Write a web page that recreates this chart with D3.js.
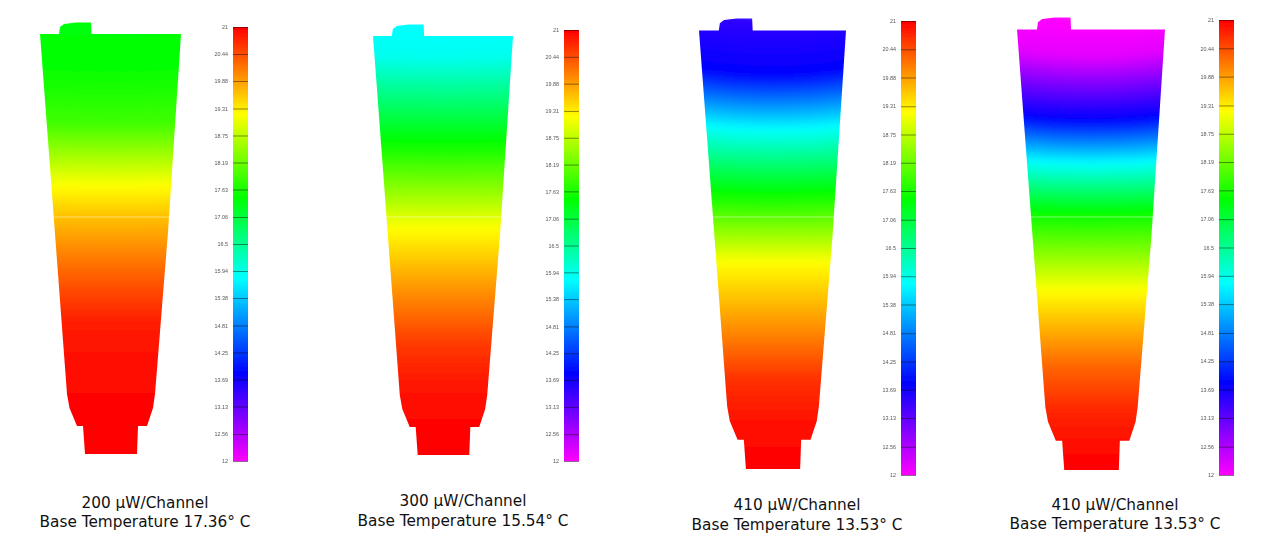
<!DOCTYPE html>
<html>
<head>
<meta charset="utf-8">
<script src="https://cdn.jsdelivr.net/npm/d3@7"></script>
<style>
html,body{margin:0;padding:0;background:#fff;overflow:hidden}
svg{display:block}
.axis path{display:none}
.axis line{stroke:#000;stroke-opacity:.55;stroke-width:.8}
.axis text{font:5.4px "Liberation Sans",sans-serif;fill:#555}
.cap{font:15.3px "DejaVu Sans",sans-serif;fill:#111;text-anchor:middle}
</style>
</head>
<body>
<svg id="c" width="1282" height="546"></svg>
<script>
// Colour scale (temperature in deg C -> hue)
const colourTemps = [12, 13.83, 15.8, 17.47, 19.2, 21];
const colourNames = ["#ff00ff", "#0000ff", "#00ffff", "#00ff00", "#ffff00", "#ff0000"];
const tickValues = [21,20.44,19.88,19.31,18.75,18.19,17.63,17.06,16.5,15.94,15.38,14.81,14.25,13.69,13.13,12.56,12];
const tickLabels = ["21","20.44","19.88","19.31","18.75","18.19","17.63","17.06","16.5","15.94","15.38","14.81","14.25","13.69","13.13","12.56","12"];

// Device outline in model units (0-141 wide, 0-432 tall, tab on top)
const outlineX = [0,1,19,20,24,36,51,51.5,141,128,115,113,107,98,97,45,43,37,29.5,27,0];
const outlineY = [12,12,12,5,2,0.5,0.5,12,12,210,372,386,404,404,432,432,404,404,386,372,12];

// Panels
const panelCaption1 = ["200 µW/Channel","300 µW/Channel","410 µW/Channel","410 µW/Channel"];
const panelCaption2 = ["Base Temperature 17.36° C","Base Temperature 15.54° C","Base Temperature 13.53° C","Base Temperature 13.53° C"];
// Temperature along the device height (model y units -> deg C)
const profileDepths = [
  [0,40,100,163,195,250,300,350,410,432],
  [0,31,116,204,260,320,360,400,432],
  [0,50,107,172,244,310,360,410,453],
  [0,33,98,143,193,273,350,395,440,453]
];
const profileTemps = [
  [17.4,17.47,17.9,19.2,19.65,20.3,20.8,20.93,21,21],
  [15.8,15.9,17.47,19.2,19.9,20.6,20.85,20.97,21],
  [13.5,13.83,15.8,17.47,19.2,20,20.65,20.92,21],
  [12,12.2,13.83,15.8,17.47,19.2,20.3,20.75,20.97,21]
];
const bowlDepth = [2,2,7,7];

// Pixel layout
const shapeLeft = [40,373,699,1017], shapeRight = [181,513,846,1165];
const shapeTop = [22,24,18,17], shapeBottom = [454,455,469,470];
const seamY = [217,217,217,217];
const barLeft = [233,564,901,1219], barTop = [27,30,21,20], barBottom = [461,461,475,475];
const barWidth = 15;
const captionX = [145,463,797,1115], captionY1 = [508,506,510,510], captionY2 = [527,526,530,529];

const colour = d3.scaleLinear().domain(colourTemps).range(colourNames).clamp(true);
const svg = d3.select("#c");
const defs = svg.append("defs");
const blur = defs.append("filter").attr("id","soft").attr("x","-5%").attr("y","-5%").attr("width","110%").attr("height","110%");
blur.append("feGaussianBlur").attr("stdDeviation",0.6);
const vblur = defs.append("filter").attr("id","vsoft").attr("x","-5%").attr("y","-5%").attr("width","110%").attr("height","110%");
vblur.append("feGaussianBlur").attr("stdDeviation","0 3");

panelCaption1.forEach((cap,i)=>{
  const g = svg.append("g").attr("filter","url(#soft)");
  const x = d3.scaleLinear().domain([0,141]).range([shapeLeft[i],shapeRight[i]]);
  const h = d3.max(outlineY);
  const y = d3.scaleLinear().domain([0,h]).range([shapeTop[i],shapeBottom[i]]);
  const pts = outlineX.map((v,k)=>[x(v),y(outlineY[k])]);
  const shape = d3.line()(pts)+"Z";
  defs.append("clipPath").attr("id","clip"+i).append("path").attr("d",shape);

  // isotherm strips painted top-down
  const depthToTemp = d3.scaleLinear().domain(profileDepths[i]).range(profileTemps[i]).clamp(true);
  const body = g.append("g").attr("clip-path",`url(#clip${i})`);
  const top = shapeTop[i], bot = shapeBottom[i];
  const l = shapeLeft[i], r = shapeRight[i], c=(l+r)/2;
  const ys = d3.range(top-10,bot+12,1);
  body.append("g").attr("filter","url(#vsoft)").selectAll("path").data(ys).join("path")
    .attr("d",py=>{
      const decay = Math.max(0,1-(py-top)/(0.55*(bot-top)));
      const sag = bowlDepth[i]*2*decay;
      return `M${l},${py}Q${c},${py+sag} ${r},${py}V${bot+12}H${l}Z`;
    })
    .attr("fill",py=>colour(depthToTemp(py-top)));
  body.append("line").attr("x1",l).attr("x2",r).attr("y1",seamY[i]).attr("y2",seamY[i])
    .attr("stroke","#fff").attr("stroke-opacity",.45).attr("stroke-width",1);

  // colour bar
  const t = d3.scaleLinear().domain([21,12]).range([barTop[i],barBottom[i]]);
  const barG = g.append("g");
  barG.selectAll("rect").data(d3.range(barTop[i],barBottom[i],1)).join("rect")
    .attr("x",barLeft[i]).attr("width",barWidth).attr("y",d=>d).attr("height",1.3)
    .attr("fill",d=>colour(t.invert(d)));
  const axis = d3.axisLeft(t).tickValues(tickValues)
    .tickFormat((d,k)=>tickLabels[k]).tickSize(-barWidth).tickPadding(5);
  barG.append("g").attr("class","axis").attr("transform",`translate(${barLeft[i]},0)`).call(axis);

  // captions
  svg.append("text").attr("class","cap").attr("x",captionX[i]).attr("y",captionY1[i]).text(cap);
  svg.append("text").attr("class","cap").attr("x",captionX[i]).attr("y",captionY2[i]).text(panelCaption2[i]);
});
</script>
</body>
</html>
